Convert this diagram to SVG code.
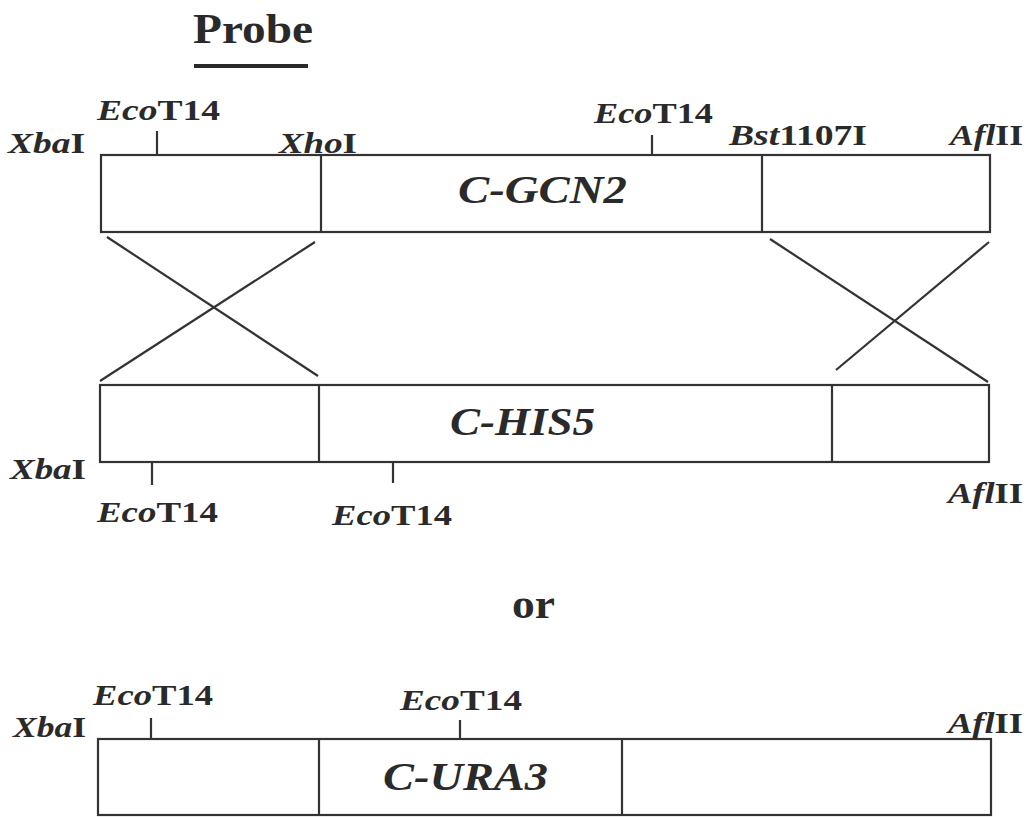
<svg xmlns="http://www.w3.org/2000/svg" width="1033" height="817" viewBox="0 0 1033 817">
<style>
.box{fill:#ffffff;stroke:#333333;stroke-width:2.2}
.ln{stroke:#333333;stroke-width:2.2;fill:none}
.lbl{font-family:"Liberation Serif","Times New Roman",serif;font-weight:bold;font-size:30px;fill:#2a2a2a}
.gene{font-family:"Liberation Serif","Times New Roman",serif;font-weight:bold;font-style:italic;font-size:40px;fill:#2a2a2a}
.big{font-family:"Liberation Serif","Times New Roman",serif;font-weight:bold;font-size:42px;fill:#2a2a2a}
.it{font-style:italic}
</style>
<rect width="1033" height="817" fill="#ffffff"/>
<g id="probe">
<text class="big" x="193" y="43" textLength="120" lengthAdjust="spacingAndGlyphs">Probe</text>
<rect x="194" y="64" width="114" height="4" fill="#2a2a2a"/>
</g>
<g id="gcn2">
<rect class="box" x="101" y="155" width="889" height="77"/>
<line class="ln" x1="321" y1="155" x2="321" y2="232"/>
<line class="ln" x1="762" y1="155" x2="762" y2="232"/>
<line class="ln" x1="157" y1="131" x2="157" y2="155"/>
<line class="ln" x1="652" y1="135" x2="652" y2="155"/>
<text class="lbl" x="8" y="153" textLength="77" lengthAdjust="spacingAndGlyphs"><tspan class="it">Xba</tspan>I</text>
<text class="lbl" x="97" y="120" textLength="123" lengthAdjust="spacingAndGlyphs"><tspan class="it">Eco</tspan>T14</text>
<text class="lbl" x="279" y="153" textLength="78" lengthAdjust="spacingAndGlyphs"><tspan class="it">Xho</tspan>I</text>
<text class="lbl" x="594" y="123" textLength="119" lengthAdjust="spacingAndGlyphs"><tspan class="it">Eco</tspan>T14</text>
<text class="lbl" x="729" y="145" textLength="138" lengthAdjust="spacingAndGlyphs"><tspan class="it">Bst</tspan>1107I</text>
<text class="lbl" x="950" y="145" textLength="73" lengthAdjust="spacingAndGlyphs"><tspan class="it">Afl</tspan>II</text>
<text class="gene" x="458" y="203" textLength="169" lengthAdjust="spacingAndGlyphs">C-GCN2</text>
</g>
<g id="connectors">
<line class="ln" x1="107" y1="237" x2="318" y2="376"/>
<line class="ln" x1="315" y1="242" x2="100" y2="381"/>
<line class="ln" x1="770" y1="239" x2="988" y2="382"/>
<line class="ln" x1="989" y1="242" x2="836" y2="370"/>
</g>
<g id="his5">
<rect class="box" x="100" y="385" width="889" height="77"/>
<line class="ln" x1="319" y1="385" x2="319" y2="462"/>
<line class="ln" x1="832" y1="385" x2="832" y2="462"/>
<line class="ln" x1="152" y1="462" x2="152" y2="485"/>
<line class="ln" x1="393" y1="462" x2="393" y2="483"/>
<text class="lbl" x="10" y="479" textLength="76" lengthAdjust="spacingAndGlyphs"><tspan class="it">Xba</tspan>I</text>
<text class="lbl" x="97" y="522" textLength="121" lengthAdjust="spacingAndGlyphs"><tspan class="it">Eco</tspan>T14</text>
<text class="lbl" x="332" y="525" textLength="120" lengthAdjust="spacingAndGlyphs"><tspan class="it">Eco</tspan>T14</text>
<text class="lbl" x="948" y="503" textLength="75" lengthAdjust="spacingAndGlyphs"><tspan class="it">Afl</tspan>II</text>
<text class="gene" x="450" y="435" textLength="145" lengthAdjust="spacingAndGlyphs">C-HIS5</text>
</g>
<g id="or">
<text class="big" x="512" y="618" font-size="44" textLength="43" lengthAdjust="spacingAndGlyphs">or</text>
</g>
<g id="ura3">
<rect class="box" x="98" y="739" width="893" height="76"/>
<line class="ln" x1="319" y1="739" x2="319" y2="815"/>
<line class="ln" x1="622" y1="739" x2="622" y2="815"/>
<line class="ln" x1="151" y1="718" x2="151" y2="739"/>
<line class="ln" x1="460" y1="720" x2="460" y2="739"/>
<text class="lbl" x="13" y="737" textLength="73" lengthAdjust="spacingAndGlyphs"><tspan class="it">Xba</tspan>I</text>
<text class="lbl" x="93" y="705" textLength="120" lengthAdjust="spacingAndGlyphs"><tspan class="it">Eco</tspan>T14</text>
<text class="lbl" x="400" y="710" textLength="122" lengthAdjust="spacingAndGlyphs"><tspan class="it">Eco</tspan>T14</text>
<text class="lbl" x="948" y="733" textLength="75" lengthAdjust="spacingAndGlyphs"><tspan class="it">Afl</tspan>II</text>
<text class="gene" x="383" y="790" textLength="165" lengthAdjust="spacingAndGlyphs">C-URA3</text>
</g>
</svg>
